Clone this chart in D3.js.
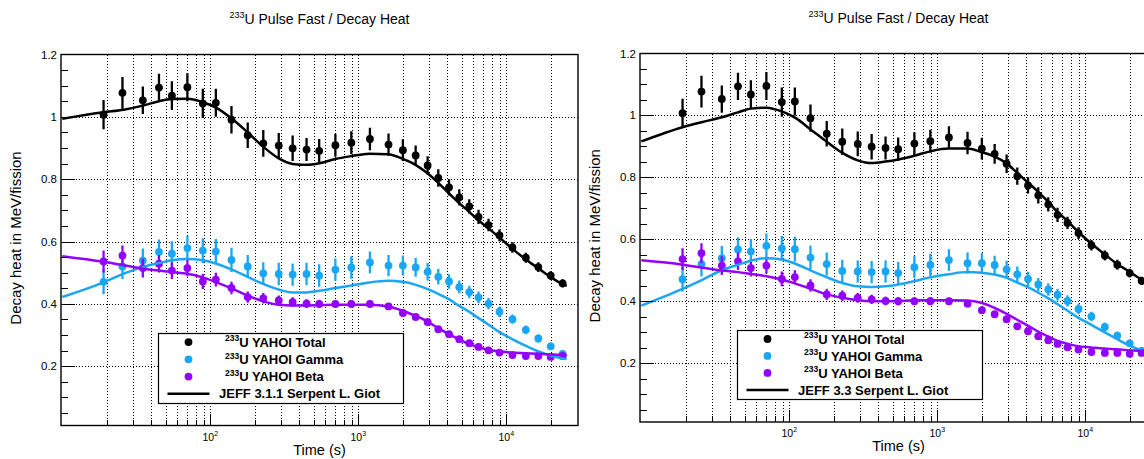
<!DOCTYPE html>
<html><head><meta charset="utf-8">
<script src="https://cdn.jsdelivr.net/npm/d3@7"></script>
<style>html,body{margin:0;padding:0;background:#fff;} svg{display:block;font-family:"Liberation Sans",Arial,Helvetica,sans-serif;}</style>
</head><body><svg id="c" width="1144" height="459"></svg>
<script>
// ---- data ----
const times = [19, 25.5, 35, 45, 55, 70, 89, 109, 139, 179, 228, 290, 360, 447, 544, 700, 897, 1198, 1600, 2000, 2440, 2940, 3470, 4100, 4810, 5620, 6490, 7580, 8990, 11000, 13550, 16450, 19950, 24000];
const totalVals = [1.007, 1.077, 1.053, 1.094, 1.068, 1.095, 1.043, 1.045, 0.991, 0.941, 0.915, 0.908, 0.899, 0.895, 0.891, 0.909, 0.917, 0.929, 0.911, 0.893, 0.876, 0.844, 0.804, 0.774, 0.742, 0.713, 0.679, 0.653, 0.620, 0.581, 0.548, 0.518, 0.491, 0.466];
const totalErr = [0.047,0.051,0.044,0.044,0.046,0.045,0.047,0.045,0.044,0.041,0.043,0.04,0.041,0.037,0.038,0.037,0.037,0.036,0.036,0.035,0.032,0.03,0.028,0.026,0.026,0.023,0.023,0.02,0.019,0.017,0.016,0.016,0.014,0.013];
const gammaVals = [0.471, 0.520, 0.539, 0.567, 0.561, 0.579, 0.571, 0.568, 0.541, 0.520, 0.498, 0.496, 0.494, 0.496, 0.491, 0.510, 0.517, 0.533, 0.523, 0.523, 0.517, 0.503, 0.487, 0.472, 0.454, 0.438, 0.421, 0.401, 0.375, 0.351, 0.317, 0.289, 0.264, 0.240];
const gammaErr = [0.04,0.04,0.039,0.04,0.04,0.04,0.04,0.04,0.039,0.037,0.036,0.036,0.036,0.036,0.036,0.036,0.036,0.035,0.034,0.032,0.03,0.028,0.025,0.023,0.021,0.02,0.019,0.018,0.017,0.015,0.014,0.013,0.012,0.012];
const betaVals = [0.536, 0.555, 0.515, 0.529, 0.507, 0.515, 0.472, 0.478, 0.451, 0.422, 0.418, 0.411, 0.406, 0.401, 0.400, 0.400, 0.400, 0.400, 0.392, 0.371, 0.358, 0.342, 0.319, 0.303, 0.287, 0.274, 0.262, 0.251, 0.244, 0.236, 0.233, 0.233, 0.230, 0.233];
const betaErr = [0.035,0.032,0.03,0.028,0.027,0.026,0.024,0.022,0.02,0.018,0.017,0.016,0.015,0.014,0.013,0.012,0.012,0.012,0.011,0.011,0.01,0.01,0.009,0.009,0.008,0.008,0.007,0.007,0.006,0.006,0.006,0.005,0.005,0.005];

const curveTimes = [10, 19, 26, 35, 45, 55, 70, 89, 110, 140, 180, 228, 290, 360, 446, 545, 700, 895, 1190, 1590, 1980, 2420, 2920, 3440, 4060, 4760, 5560, 6420, 7500, 8880, 10860, 13350, 16220, 19640, 23640, 25600];
const jeff311Total = [0.994, 1.015, 1.023, 1.036, 1.05, 1.057, 1.058, 1.047, 1.029, 0.994, 0.949, 0.904, 0.867, 0.849, 0.846, 0.851, 0.865, 0.874, 0.882, 0.880, 0.866, 0.847, 0.820, 0.790, 0.756, 0.725, 0.697, 0.670, 0.644, 0.615, 0.579, 0.545, 0.516, 0.488, 0.465, 0.458];
const jeff311Gamma = [0.422, 0.469, 0.497, 0.518, 0.531, 0.540, 0.544, 0.540, 0.529, 0.510, 0.486, 0.464, 0.446, 0.437, 0.437, 0.442, 0.451, 0.459, 0.469, 0.474, 0.471, 0.462, 0.448, 0.433, 0.416, 0.395, 0.376, 0.356, 0.335, 0.311, 0.288, 0.267, 0.249, 0.235, 0.226, 0.223];
const jeff311Beta = [0.553, 0.535, 0.524, 0.513, 0.507, 0.502, 0.497, 0.485, 0.469, 0.449, 0.426, 0.408, 0.397, 0.395, 0.395, 0.396, 0.397, 0.397, 0.397, 0.392, 0.379, 0.362, 0.344, 0.323, 0.304, 0.287, 0.272, 0.262, 0.253, 0.248, 0.244, 0.242, 0.240, 0.238, 0.236, 0.235];
const jeff33Total = [0.916, 0.962, 0.979, 0.994, 1.010, 1.022, 1.025, 1.013, 0.992, 0.954, 0.914, 0.879, 0.855, 0.846, 0.851, 0.858, 0.870, 0.884, 0.893, 0.893, 0.882, 0.868, 0.846, 0.816, 0.785, 0.755, 0.723, 0.690, 0.661, 0.626, 0.588, 0.554, 0.522, 0.497, 0.472, 0.465];
const jeff33Gamma = [0.386, 0.440, 0.470, 0.500, 0.518, 0.531, 0.539, 0.535, 0.521, 0.499, 0.477, 0.459, 0.448, 0.446, 0.448, 0.454, 0.465, 0.477, 0.487, 0.494, 0.492, 0.486, 0.476, 0.461, 0.446, 0.429, 0.411, 0.392, 0.371, 0.348, 0.325, 0.301, 0.279, 0.258, 0.242, 0.237];
const jeff33Beta = [0.532, 0.518, 0.508, 0.499, 0.494, 0.488, 0.481, 0.470, 0.457, 0.440, 0.422, 0.411, 0.403, 0.400, 0.400, 0.401, 0.403, 0.403, 0.403, 0.402, 0.395, 0.379, 0.360, 0.341, 0.322, 0.303, 0.287, 0.273, 0.263, 0.255, 0.251, 0.247, 0.245, 0.242, 0.239, 0.238];

const yMajorTicks = [0.2, 0.4, 0.6, 0.8, 1.0, 1.2];
const yTickLabels = ["0.2", "0.4", "0.6", "0.8", "1", "1.2"];
const xMajorExps = [2, 3, 4];
const seriesNames = ["YAHOI Total", "YAHOI Gamma", "YAHOI Beta"];
const modelNames = ["JEFF 3.1.1 Serpent L. Giot", "JEFF 3.3 Serpent L. Giot"];

// ---- styles ----
const colors = ["#000000", "#19a7f5", "#9300fb"];

const svg = d3.select('#c');
svg.append('rect').attr('width', 1144).attr('height', 459).attr('fill', '#fff');

const panels = [
  {left: 61, right: 578, top: 54.5, bottom: 425.5, titleY: 24, ytitleX: 21,
   model: modelNames[0], curves: [jeff311Total, jeff311Gamma, jeff311Beta]},
  {left: 640, right: 1157, top: 53.5, bottom: 422, titleY: 23.3, ytitleX: 600,
   model: modelNames[1], curves: [jeff33Total, jeff33Gamma, jeff33Beta]}
];

const seriesData = [
  {vals: totalVals, err: totalErr},
  {vals: gammaVals, err: gammaErr},
  {vals: betaVals, err: betaErr}
];
const snap = v => Math.round(v) + 0.5;

panels.forEach((p, pi) => {
  const x = d3.scaleLog().domain([9.8, 30500]).range([p.left, p.right]);
  const y = d3.scaleLinear().domain([0.01, 1.2]).range([p.bottom, p.top]);
  const g = svg.append('g');
  const clipId = 'clip' + pi;
  svg.append('clipPath').attr('id', clipId).append('rect')
    .attr('x', p.left).attr('y', p.top).attr('width', p.right - p.left).attr('height', p.bottom - p.top);

  // x ticks (log minor)
  const xt = [];
  for (let d = 1; d <= 4; d++) for (let k = 1; k <= 9; k++) {
    const v = k * Math.pow(10, d);
    const px = x(v);
    if (px > p.left + 2 && px < p.right - 3) xt.push({v, major: k === 1});
  }
  // grid vertical
  g.append('g').attr('shape-rendering', 'crispEdges').selectAll('line').data(xt).join('line')
    .attr('x1', d => snap(x(d.v))).attr('x2', d => snap(x(d.v)))
    .attr('y1', p.top).attr('y2', p.bottom)
    .attr('stroke', '#000').attr('stroke-width', 1).attr('stroke-dasharray', '1,2');
  // grid horizontal
  g.append('g').attr('shape-rendering', 'crispEdges').selectAll('line').data(yMajorTicks.filter(v => v < 1.19)).join('line')
    .attr('x1', p.left).attr('x2', p.right)
    .attr('y1', d => snap(y(d))).attr('y2', d => snap(y(d)))
    .attr('stroke', '#000').attr('stroke-width', 1).attr('stroke-dasharray', '1,2');

  // data points
  const dg = g.append('g').attr('clip-path', `url(#${clipId})`);
  seriesData.forEach((s, si) => {
    const pts = times.map((t, i) => ({t, v: s.vals[i], e: s.err[i]}));
    dg.append('g').selectAll('line').data(pts).join('line')
      .attr('x1', d => x(d.t)).attr('x2', d => x(d.t))
      .attr('y1', d => y(d.v - d.e)).attr('y2', d => y(d.v + d.e))
      .attr('stroke', colors[si]).attr('stroke-width', 2.3);
    dg.append('g').selectAll('circle').data(pts).join('circle')
      .attr('cx', d => x(d.t)).attr('cy', d => y(d.v)).attr('r', 3.9)
      .attr('fill', colors[si]);
  });
  // model curves
  const line = d3.line().x(d => x(d[0])).y(d => y(d[1])).curve(d3.curveMonotoneX);
  p.curves.forEach((c, ci) => {
    dg.append('path').datum(curveTimes.map((t, i) => [t, c[i]]))
      .attr('d', line).attr('fill', 'none').attr('stroke', colors[ci])
      .attr('stroke-width', 2.5).attr('stroke-linejoin', 'round');
  });

  // legend
  const lx0 = Math.round(p.left + 97) + 0.5, lx1 = Math.round(p.left + 341.5) + 0.5;
  const ly0 = snap(y(0.306)), ly1 = snap(y(0.083));
  const lh = ly1 - ly0;
  g.append('rect').attr('x', lx0).attr('y', ly0).attr('width', lx1 - lx0).attr('height', lh)
    .attr('fill', '#fff').attr('stroke', '#000').attr('stroke-width', 1.2);
  const rowY = i => ly0 + lh * (0.123 + i * 0.246);
  seriesNames.forEach((nm, i) => {
    g.append('circle').attr('cx', lx0 + 30).attr('cy', rowY(i)).attr('r', 3.9).attr('fill', colors[i]);
    const t = g.append('text').attr('x', lx0 + 66.5).attr('y', rowY(i) + 4.7)
      .attr('font-size', 13).attr('font-weight', 'bold').attr('fill', '#000');
    t.append('tspan').attr('font-size', 8.5).attr('dy', -5.5).text('233');
    t.append('tspan').attr('dy', 5.5).text('U ' + nm);
  });
  g.append('line').attr('x1', lx0 + 9).attr('x2', lx0 + 51)
    .attr('y1', rowY(3)).attr('y2', rowY(3)).attr('stroke', '#000').attr('stroke-width', 2.5);
  g.append('text').attr('x', lx0 + 60.5).attr('y', rowY(3) + 4.7)
    .attr('font-size', 13).attr('font-weight', 'bold').text(p.model);

  // frame
  g.append('rect').attr('x', p.left).attr('y', p.top).attr('width', p.right - p.left).attr('height', p.bottom - p.top)
    .attr('fill', 'none').attr('stroke', '#000').attr('stroke-width', 1.4);

  // y ticks
  const yMinor = d3.range(1, 24).map(i => i * 0.05);
  g.append('g').attr('shape-rendering', 'crispEdges').selectAll('line').data(yMinor).join('line')
    .attr('x1', p.left).attr('x2', (d, i) => p.left + (((i + 1) % 4 === 0) ? 14 : 7))
    .attr('y1', d => snap(y(d))).attr('y2', d => snap(y(d)))
    .attr('stroke', '#000').attr('stroke-width', 1.3);
  g.append('g').selectAll('text').data(yMajorTicks).join('text')
    .attr('x', p.left - 4).attr('y', d => y(d) + 4)
    .attr('text-anchor', 'end').attr('font-size', 11.5).attr('fill', '#000')
    .text((d, i) => yTickLabels[i]);

  // x ticks
  g.append('g').attr('shape-rendering', 'crispEdges').selectAll('line').data(xt).join('line')
    .attr('x1', d => snap(x(d.v))).attr('x2', d => snap(x(d.v)))
    .attr('y1', p.bottom).attr('y2', d => p.bottom - (d.major ? 12 : 6))
    .attr('stroke', '#000').attr('stroke-width', 1.3);
  xMajorExps.forEach(e => {
    const t = g.append('text').attr('x', x(Math.pow(10, e))).attr('y', p.bottom + 15)
      .attr('text-anchor', 'middle').attr('font-size', 10.5).attr('fill', '#000');
    t.append('tspan').text('10');
    t.append('tspan').attr('font-size', 7).attr('dy', -5).text(String(e));
  });

  // axis titles
  g.append('text').attr('x', (p.left + p.right) / 2).attr('y', p.bottom + 29)
    .attr('text-anchor', 'middle').attr('font-size', 14.5).text('Time (s)');
  g.append('text').attr('transform', `translate(${p.ytitleX},${(p.top + p.bottom) / 2 - 2}) rotate(-90)`)
    .attr('text-anchor', 'middle').attr('font-size', 15).text('Decay heat in MeV/fission');

  // title
  const tt = g.append('text').attr('x', (p.left + p.right) / 2).attr('y', p.titleY)
    .attr('text-anchor', 'middle').attr('font-size', 14);
  tt.append('tspan').attr('font-size', 9).attr('dy', -6.5).text('233');
  tt.append('tspan').attr('dy', 6.5).text('U Pulse Fast / Decay Heat');
});
</script></body></html>
